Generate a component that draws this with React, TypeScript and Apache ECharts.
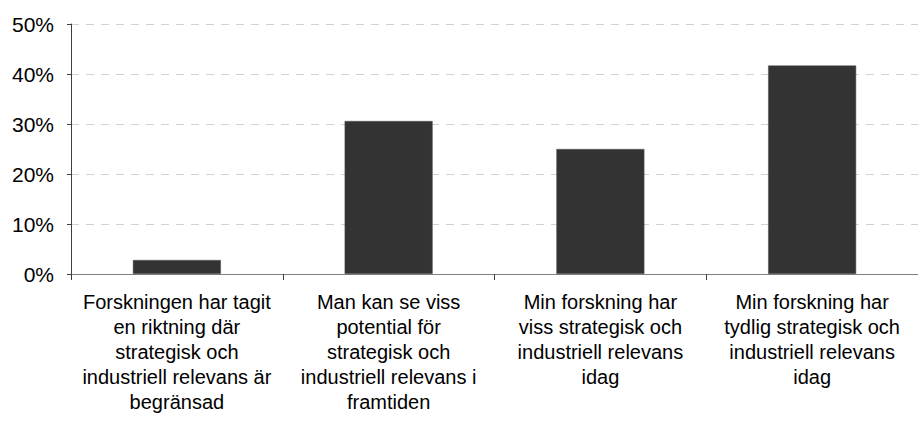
import React, { useEffect, useRef } from "react";
import * as echarts from "echarts";

const categories = [
  "Forskningen har tagit\nen riktning där\nstrategisk och\nindustriell relevans är\nbegränsad",
  "Man kan se viss\npotential för\nstrategisk och\nindustriell relevans i\nframtiden",
  "Min forskning har\nviss strategisk och\nindustriell relevans\nidag",
  "Min forskning har\ntydlig strategisk och\nindustriell relevans\nidag",
];
const values = [2.8, 30.6, 25.0, 41.7];
const yTicks = { min: 0, max: 50, interval: 10 };

export default function App() {
  const ref = useRef<HTMLDivElement>(null);
  useEffect(() => {
    if (!ref.current) return;
    const chart = echarts.init(ref.current, undefined, { renderer: "svg" });
    const font = "'Liberation Sans', Arial, sans-serif";
    chart.setOption({
      animation: false,
      backgroundColor: "#ffffff",
      grid: { left: 71, top: 24, width: 858, height: 250, containLabel: false },
      xAxis: {
        type: "category",
        data: categories,
        axisLine: { lineStyle: { color: "#808080", width: 1 } },
        axisTick: { show: true, length: 6, alignWithLabel: false, lineStyle: { color: "#404040" } },
        axisLabel: {
          interval: 0,
          margin: 15,
          color: "#000",
          fontSize: 20,
          lineHeight: 25,
          fontFamily: font,
          align: "center",
        },
      },
      yAxis: {
        type: "value",
        min: yTicks.min,
        max: yTicks.max,
        interval: yTicks.interval,
        axisLine: { show: true, lineStyle: { color: "#404040", width: 1 } },
        axisTick: { show: true, length: 4, lineStyle: { color: "#404040" } },
        axisLabel: {
          formatter: "{value}%",
          color: "#000",
          fontSize: 21,
          fontFamily: font,
          margin: 17,
        },
        splitLine: {
          show: true,
          lineStyle: { color: "#d0d0d0", type: [8, 7], width: 1 },
        },
      },
      series: [
        {
          type: "bar",
          data: values,
          barWidth: 88,
          itemStyle: { color: "#333333", borderColor: "#555555", borderWidth: 0.5 },
        },
      ],
    });
    return () => chart.dispose();
  }, []);
  return (
    <div
      ref={ref}
      style={{ position: "fixed", left: 0, top: 0, width: 918, height: 434, background: "#fff" }}
    />
  );
}
